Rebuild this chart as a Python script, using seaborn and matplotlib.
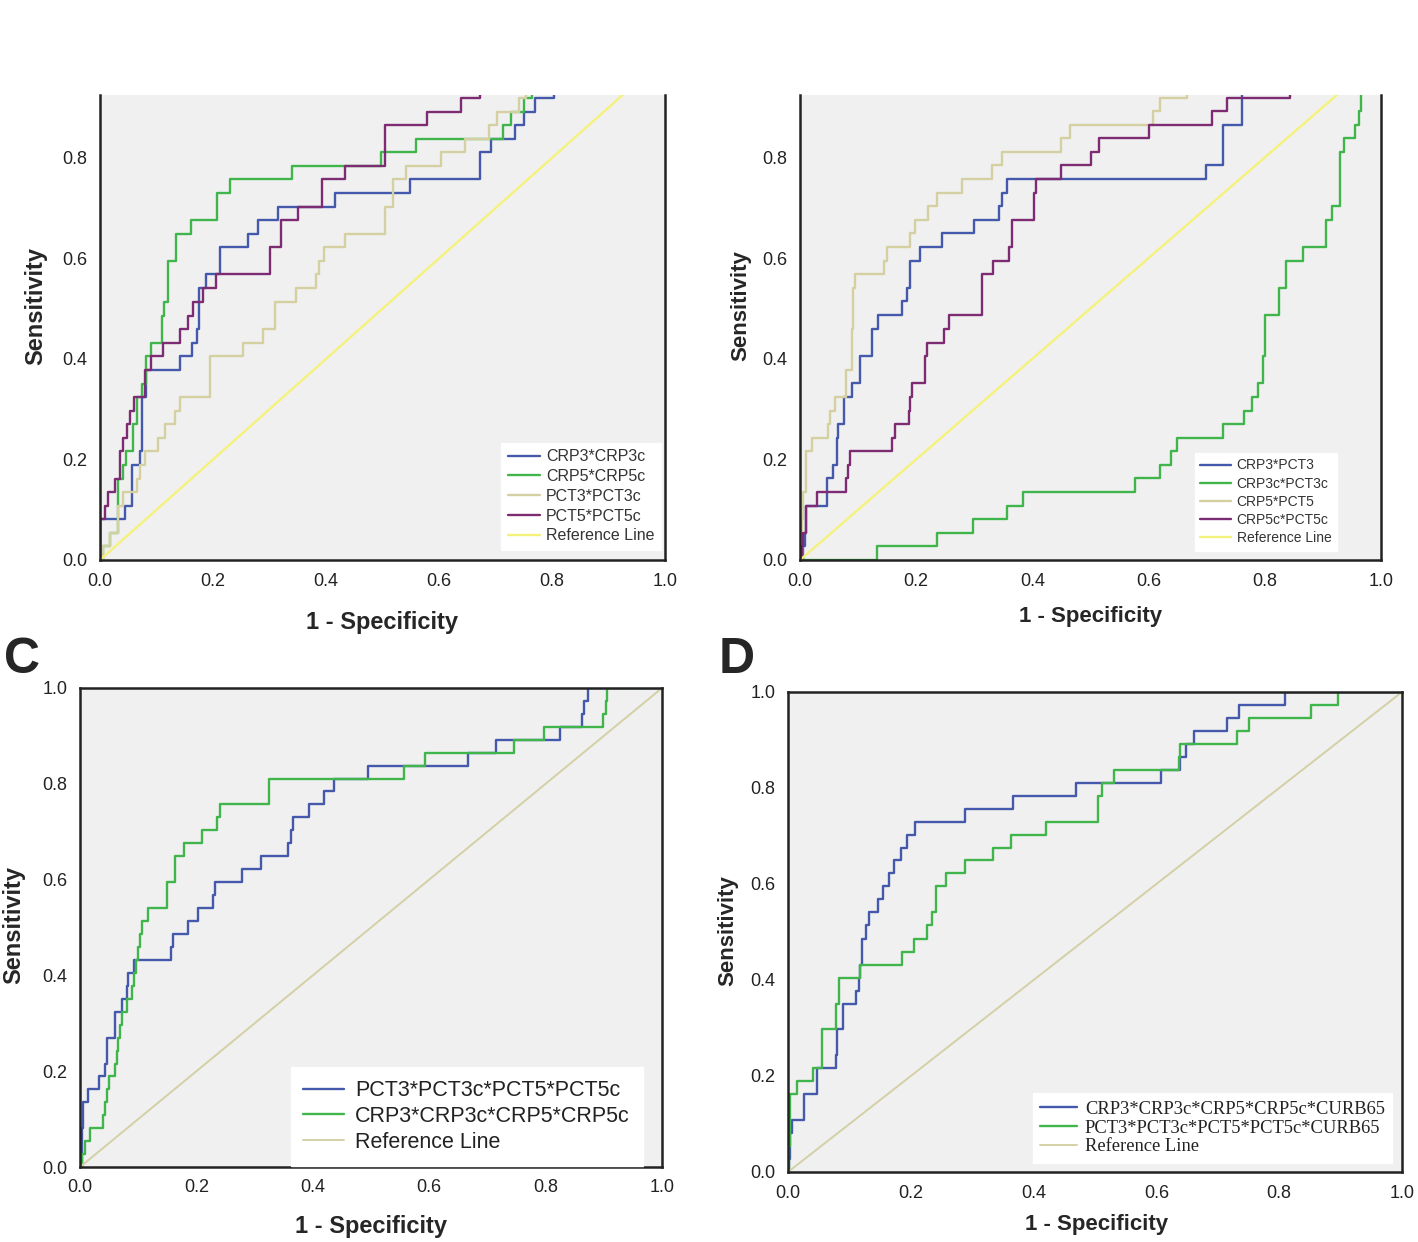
import matplotlib
matplotlib.use('Agg')
import matplotlib.pyplot as plt
import seaborn as sns

# --- Colours (SPSS ROC style) ---
BLUE = '#4459ab'
GREEN = '#3fb54c'
TAN = '#d5d0a2'
PURPLE = '#7d2b72'
YELLOW = '#f5f27c'
KHAKI = '#d4d0a6'
BG = '#f0f0f0'

# --- Data: ROC step points (1 - specificity, sensitivity) ---
REF_X = [0, 1]
REF_Y = [0, 1]

# Panel A
a_crp3_x = [0, 0, 0.044, 0.056, 0.071, 0.074, 0.082, 0.141, 0.162, 0.171, 0.176, 0.188, 0.213, 0.262,
            0.279, 0.315, 0.416, 0.548, 0.672, 0.692, 0.734, 0.751, 0.770, 0.803, 1.0]
a_crp3_y = [0, 0.081, 0.108, 0.189, 0.216, 0.324, 0.378, 0.405, 0.432, 0.459, 0.541, 0.568, 0.622, 0.649,
            0.676, 0.703, 0.730, 0.757, 0.811, 0.838, 0.865, 0.892, 0.919, 1.0, 1.0]
a_crp5_x = [0, 0.005, 0.018, 0.032, 0.041, 0.046, 0.059, 0.065, 0.074, 0.082, 0.091, 0.109, 0.113, 0.121,
            0.134, 0.161, 0.207, 0.230, 0.340, 0.498, 0.559, 0.713, 0.728, 0.750, 0.765, 1.0]
a_crp5_y = [0, 0.027, 0.054, 0.162, 0.189, 0.216, 0.270, 0.324, 0.351, 0.405, 0.432, 0.486, 0.514, 0.595,
            0.649, 0.676, 0.730, 0.757, 0.784, 0.811, 0.838, 0.865, 0.892, 0.919, 1.0, 1.0]
a_pct3_x = [0, 0.005, 0.018, 0.032, 0.041, 0.065, 0.071, 0.079, 0.103, 0.115, 0.132, 0.141, 0.194, 0.253,
            0.288, 0.309, 0.347, 0.382, 0.388, 0.397, 0.433, 0.505, 0.518, 0.541, 0.603, 0.646, 0.689,
            0.702, 0.741, 0.754, 1.0]
a_pct3_y = [0, 0.027, 0.054, 0.108, 0.135, 0.162, 0.189, 0.216, 0.243, 0.270, 0.297, 0.324, 0.405, 0.432,
            0.459, 0.514, 0.541, 0.568, 0.595, 0.622, 0.649, 0.703, 0.757, 0.784, 0.811, 0.838, 0.865,
            0.892, 0.919, 1.0, 1.0]
a_pct5_x = [0, 0, 0.008, 0.015, 0.027, 0.035, 0.040, 0.047, 0.053, 0.060, 0.080, 0.090, 0.112, 0.141,
            0.156, 0.165, 0.182, 0.206, 0.300, 0.321, 0.351, 0.393, 0.433, 0.505, 0.578, 0.639, 0.672, 1.0]
a_pct5_y = [0, 0.081, 0.108, 0.135, 0.162, 0.216, 0.243, 0.270, 0.297, 0.324, 0.378, 0.405, 0.432, 0.459,
            0.486, 0.514, 0.541, 0.568, 0.622, 0.676, 0.703, 0.757, 0.784, 0.865, 0.892, 0.919, 1.0, 1.0]

# Panel B
b_crp3_x = [0, 0.006, 0.009, 0.011, 0.046, 0.057, 0.063, 0.066, 0.075, 0.089, 0.103, 0.124, 0.135, 0.175,
            0.184, 0.190, 0.207, 0.244, 0.299, 0.342, 0.348, 0.356, 0.699, 0.728, 0.761, 1.0]
b_crp3_y = [0, 0.027, 0.054, 0.108, 0.162, 0.189, 0.243, 0.270, 0.324, 0.351, 0.405, 0.459, 0.486, 0.514,
            0.541, 0.595, 0.622, 0.649, 0.676, 0.703, 0.730, 0.757, 0.784, 0.865, 1.0, 1.0]
b_crp3c_x = [0, 0.133, 0.235, 0.297, 0.357, 0.383, 0.577, 0.620, 0.639, 0.649, 0.728, 0.764, 0.778, 0.788,
             0.797, 0.800, 0.824, 0.837, 0.866, 0.906, 0.916, 0.929, 0.936, 0.955, 0.962, 0.965, 1.0]
b_crp3c_y = [0, 0.027, 0.054, 0.081, 0.108, 0.135, 0.162, 0.189, 0.216, 0.243, 0.270, 0.297, 0.324, 0.351,
             0.405, 0.486, 0.541, 0.595, 0.622, 0.676, 0.703, 0.811, 0.838, 0.865, 0.892, 1.0, 1.0]
b_crp5_x = [0, 0.003, 0.006, 0.011, 0.020, 0.049, 0.052, 0.060, 0.080, 0.089, 0.092, 0.095, 0.144, 0.149,
            0.190, 0.198, 0.221, 0.236, 0.279, 0.330, 0.348, 0.449, 0.465, 0.607, 0.620, 0.666, 1.0]
b_crp5_y = [0, 0.081, 0.135, 0.216, 0.243, 0.270, 0.297, 0.324, 0.378, 0.459, 0.541, 0.568, 0.595, 0.622,
            0.649, 0.676, 0.703, 0.730, 0.757, 0.784, 0.811, 0.838, 0.865, 0.892, 0.919, 1.0, 1.0]
b_crp5c_x = [0, 0.003, 0.006, 0.011, 0.029, 0.080, 0.083, 0.086, 0.158, 0.164, 0.187, 0.190, 0.193, 0.216,
             0.218, 0.247, 0.256, 0.313, 0.333, 0.359, 0.365, 0.403, 0.406, 0.449, 0.501, 0.514, 0.600,
             0.709, 0.735, 0.843, 1.0]
b_crp5c_y = [0, 0.027, 0.054, 0.108, 0.135, 0.162, 0.189, 0.216, 0.243, 0.270, 0.297, 0.324, 0.351, 0.405,
             0.432, 0.459, 0.486, 0.568, 0.595, 0.622, 0.676, 0.730, 0.757, 0.784, 0.811, 0.838, 0.865,
             0.892, 0.919, 1.0, 1.0]

# Panel C
c_pct_x = [0, 0.003, 0.006, 0.014, 0.032, 0.043, 0.046, 0.060, 0.072, 0.080, 0.083, 0.092, 0.156, 0.159,
           0.186, 0.202, 0.228, 0.232, 0.278, 0.311, 0.357, 0.363, 0.366, 0.393, 0.419, 0.436, 0.495,
           0.666, 0.715, 0.824, 0.863, 0.866, 0.873, 1.0]
c_pct_y = [0, 0.081, 0.135, 0.162, 0.189, 0.216, 0.270, 0.324, 0.351, 0.378, 0.405, 0.432, 0.459, 0.486,
           0.514, 0.541, 0.568, 0.595, 0.622, 0.649, 0.676, 0.703, 0.730, 0.757, 0.784, 0.811, 0.838,
           0.865, 0.892, 0.919, 0.946, 0.973, 1.0, 1.0]
c_crp_x = [0, 0.003, 0.009, 0.017, 0.040, 0.043, 0.046, 0.049, 0.060, 0.063, 0.066, 0.069, 0.072, 0.080,
           0.089, 0.092, 0.097, 0.100, 0.103, 0.106, 0.117, 0.149, 0.163, 0.179, 0.209, 0.235, 0.241,
           0.324, 0.557, 0.593, 0.745, 0.797, 0.899, 0.903, 0.906, 1.0]
c_crp_y = [0, 0.027, 0.054, 0.081, 0.108, 0.135, 0.162, 0.189, 0.216, 0.243, 0.270, 0.297, 0.324, 0.351,
           0.378, 0.405, 0.432, 0.459, 0.486, 0.514, 0.541, 0.595, 0.649, 0.676, 0.703, 0.730, 0.757,
           0.811, 0.838, 0.865, 0.892, 0.919, 0.946, 0.973, 1.0, 1.0]

# Panel D
d_crp_x = [0, 0.002, 0.004, 0.007, 0.026, 0.048, 0.078, 0.080, 0.089, 0.110, 0.116, 0.118, 0.121, 0.127,
           0.132, 0.146, 0.154, 0.165, 0.173, 0.184, 0.193, 0.207, 0.289, 0.367, 0.469, 0.607, 0.639,
           0.649, 0.662, 0.715, 0.734, 0.810, 1.0]
d_crp_y = [0, 0.027, 0.081, 0.108, 0.162, 0.216, 0.243, 0.297, 0.351, 0.378, 0.405, 0.432, 0.486, 0.514,
           0.541, 0.568, 0.595, 0.622, 0.649, 0.676, 0.703, 0.730, 0.757, 0.784, 0.811, 0.838, 0.865,
           0.892, 0.919, 0.946, 0.973, 1.0, 1.0]
d_pct_x = [0, 0.002, 0.003, 0.015, 0.040, 0.056, 0.078, 0.083, 0.118, 0.186, 0.205, 0.227, 0.235, 0.241,
           0.257, 0.289, 0.334, 0.364, 0.420, 0.505, 0.511, 0.531, 0.636, 0.639, 0.731, 0.751, 0.852,
           0.895, 1.0]
d_pct_y = [0, 0.054, 0.162, 0.189, 0.216, 0.297, 0.351, 0.405, 0.432, 0.459, 0.486, 0.514, 0.541, 0.595,
           0.622, 0.649, 0.676, 0.703, 0.730, 0.784, 0.811, 0.838, 0.865, 0.892, 0.919, 0.946, 0.973,
           1.0, 1.0]

TICKS = [0.0, 0.2, 0.4, 0.6, 0.8, 1.0]
TICK_LABELS = ['0.0', '0.2', '0.4', '0.6', '0.8', '1.0']

sns.set_style('white')
plt.rcParams['font.family'] = ['Liberation Sans', 'DejaVu Sans']

fig = plt.figure(figsize=(14.18, 12.42), dpi=100)
W, H = 1418, 1242


def add_axes(left, right, top, bottom):
    return fig.add_axes([left / W, 1 - bottom / H, (right - left) / W, (bottom - top) / H])


def roc(ax, x, y, color, label, lw=1.7):
    sns.lineplot(x=x, y=y, ax=ax, color=color, label=label, estimator=None,
                 sort=False, drawstyle='steps-post', linewidth=lw)


def style(ax, ytop, yticks, xlab_pos, ylab_pos, lab_size, top_spine=True):
    ax.set_facecolor(BG)
    ax.set_xlim(0, 1)
    ax.set_ylim(0, ytop)
    ax.set_xticks(TICKS)
    ax.set_xticklabels(TICK_LABELS)
    ax.set_yticks(TICKS[:yticks])
    ax.set_yticklabels(TICK_LABELS[:yticks])
    ax.tick_params(direction='out', length=6, width=1.5, labelsize=13, pad=3, colors='#222222')
    for name, sp in ax.spines.items():
        sp.set_linewidth(1.8)
        sp.set_color('#222222')
    if not top_spine:
        ax.spines['top'].set_visible(False)
    ax.set_xlabel('1 - Specificity', fontsize=lab_size, fontweight='bold')
    ax.set_ylabel('Sensitivity', fontsize=lab_size, fontweight='bold')
    ax.xaxis.set_label_coords(*xlab_pos)
    ax.yaxis.set_label_coords(*ylab_pos)


# --- Panel A ---
axA = add_axes(100, 665, 95, 560)
roc(axA, a_crp3_x, a_crp3_y, BLUE, 'CRP3*CRP3c')
roc(axA, a_crp5_x, a_crp5_y, GREEN, 'CRP5*CRP5c')
roc(axA, a_pct3_x, a_pct3_y, TAN, 'PCT3*PCT3c')
roc(axA, a_pct5_x, a_pct5_y, PURPLE, 'PCT5*PCT5c')
sns.lineplot(x=REF_X, y=REF_Y, ax=axA, color=YELLOW, label='Reference Line', linewidth=1.7)
style(axA, 0.925, 5, (0.5, -0.11), (-0.094, 0.546), 17, top_spine=False)
axA.legend(loc='lower right', bbox_to_anchor=(0.993, 0.022), borderaxespad=0, fontsize=11.5,
           frameon=True, facecolor='white', edgecolor='white', framealpha=1, fancybox=False,
           handlelength=2.0, handletextpad=0.4, labelspacing=0.3, labelcolor='#333333')

# --- Panel B ---
axB = add_axes(800, 1381, 95, 560)
roc(axB, b_crp3_x, b_crp3_y, BLUE, 'CRP3*PCT3')
roc(axB, b_crp3c_x, b_crp3c_y, GREEN, 'CRP3c*PCT3c')
roc(axB, b_crp5_x, b_crp5_y, TAN, 'CRP5*PCT5')
roc(axB, b_crp5c_x, b_crp5c_y, PURPLE, 'CRP5c*PCT5c')
sns.lineplot(x=REF_X, y=REF_Y, ax=axB, color=YELLOW, label='Reference Line', linewidth=1.7)
style(axB, 0.924, 5, (0.5, -0.099), (-0.083, 0.548), 16, top_spine=False)
axB.legend(loc='lower right', bbox_to_anchor=(0.924, 0.02), borderaxespad=0, fontsize=10,
           frameon=True, facecolor='white', edgecolor='white', framealpha=1, fancybox=False,
           handlelength=2.2, handletextpad=0.4, labelspacing=0.3, labelcolor='#333333')

# --- Panel C ---
axC = add_axes(80, 662, 688, 1167)
roc(axC, c_pct_x, c_pct_y, BLUE, 'PCT3*PCT3c*PCT5*PCT5c')
roc(axC, c_crp_x, c_crp_y, GREEN, 'CRP3*CRP3c*CRP5*CRP5c')
sns.lineplot(x=REF_X, y=REF_Y, ax=axC, color=KHAKI, label='Reference Line', linewidth=1.4)
style(axC, 1.0, 6, (0.5, -0.1), (-0.0945, 0.505), 17)
axC.legend(loc='lower right', bbox_to_anchor=(0.967, 0.003), borderaxespad=0, fontsize=15.5,
           frameon=True, facecolor='white', edgecolor='white', framealpha=1, fancybox=False,
           handlelength=1.9, handletextpad=0.5, labelspacing=0.22, labelcolor='#222222',
           borderpad=0.6)

# --- Panel D ---
axD = add_axes(788, 1402, 692, 1172)
roc(axD, d_crp_x, d_crp_y, BLUE, 'CRP3*CRP3c*CRP5*CRP5c*CURB65')
roc(axD, d_pct_x, d_pct_y, GREEN, 'PCT3*PCT3c*PCT5*PCT5c*CURB65')
sns.lineplot(x=REF_X, y=REF_Y, ax=axD, color=KHAKI, label='Reference Line', linewidth=1.4)
style(axD, 1.0, 6, (0.503, -0.0875), (-0.081, 0.504), 16)
axD.legend(loc='lower right', bbox_to_anchor=(0.984, 0.019), borderaxespad=0,
           prop={'family': 'Liberation Serif', 'size': 13.3},
           frameon=True, facecolor='white', edgecolor='white', framealpha=1, fancybox=False,
           handlelength=2.0, handletextpad=0.4, labelspacing=0.1, labelcolor='#222222',
           borderpad=0.4)

# panel letters
fig.text(22 / W, 1 - 660 / H, 'C', fontsize=36, fontweight='bold', ha='center', va='center')
fig.text(737 / W, 1 - 660 / H, 'D', fontsize=36, fontweight='bold', ha='center', va='center')

fig.savefig('out.png', dpi=100, facecolor='white')
